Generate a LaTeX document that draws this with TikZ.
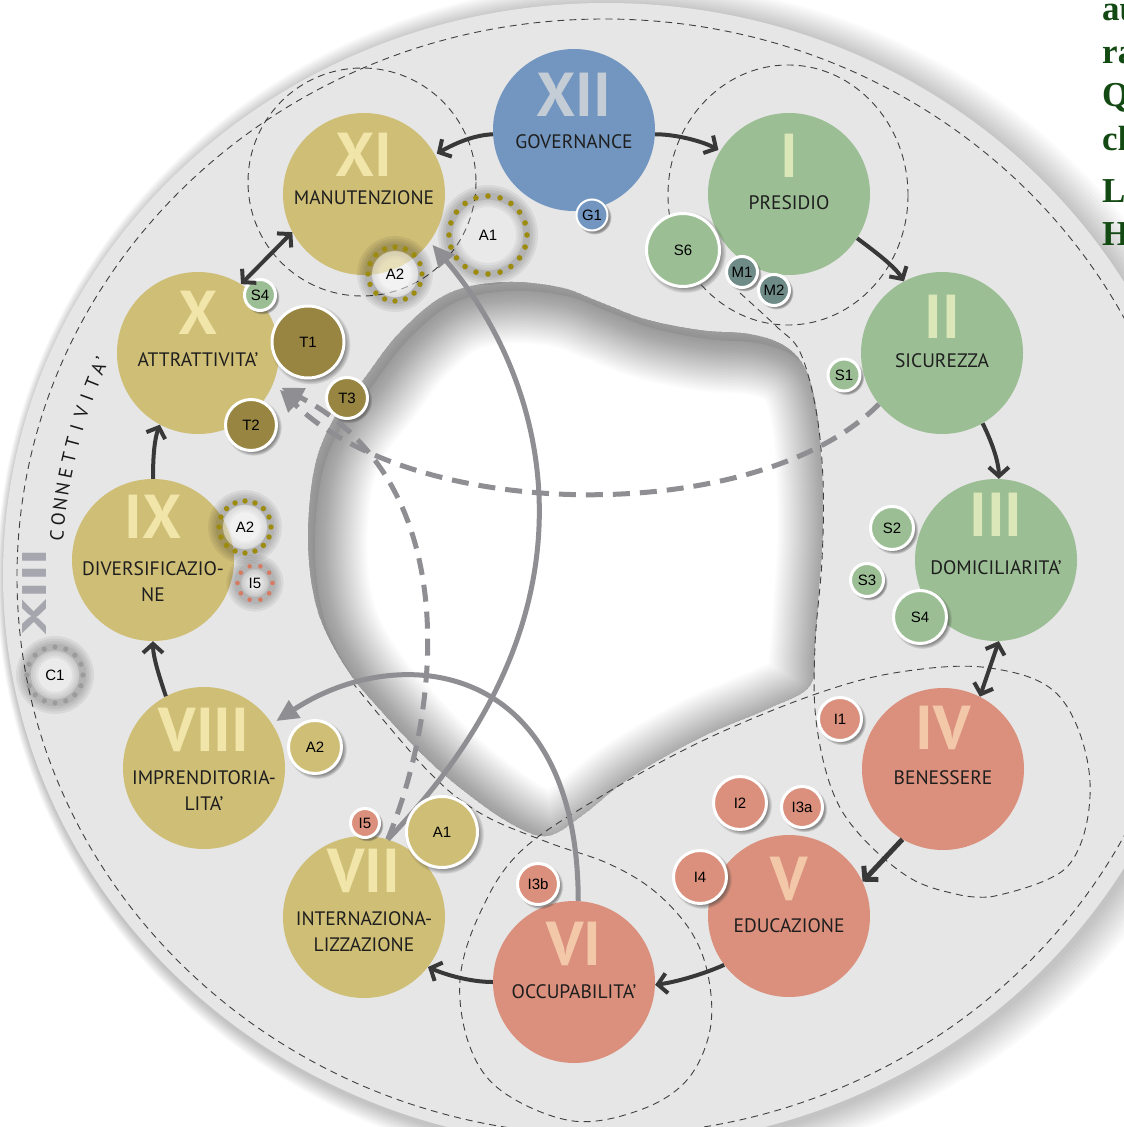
\documentclass[tikz,border=0pt]{standalone}
\usepackage{fontspec}
\setmainfont{PT Sans}
\newfontfamily\arialfam{Liberation Sans}
\newfontfamily\serifbfam{Liberation Serif}
\usetikzlibrary{arrows.meta,shadows,calc}

\definecolor{ringgray}{HTML}{E6E6E6}
\definecolor{cyel}{HTML}{CFBE76}
\definecolor{cgreen}{HTML}{9BBE94}
\definecolor{cred}{HTML}{DA907C}
\definecolor{cblue}{HTML}{7296C0}
\definecolor{colive}{HTML}{978541}
\definecolor{cteal}{HTML}{6E8B88}
\definecolor{nyel}{HTML}{F1E5AA}
\definecolor{ngreen}{HTML}{DBE7B8}
\definecolor{nred}{HTML}{F3C8A8}
\definecolor{nblue}{HTML}{C4CCD6}
\definecolor{darkarr}{HTML}{383838}
\definecolor{grayarr}{HTML}{8E8E93}
\definecolor{dotolive}{HTML}{9C8B0C}
\definecolor{dotred}{HTML}{D77A62}
\definecolor{dotgray}{HTML}{9B9B9B}
\definecolor{xiiigray}{HTML}{A6A6AE}
\definecolor{txtdark}{HTML}{1E1E1E}
\definecolor{fraggreen}{HTML}{134A13}
\definecolor{dashcol}{HTML}{404040}

\newcommand\mynumfont{\bfseries\fontsize{62}{62}\selectfont}
\newcommand\mylabfont{\fontsize{19.5}{26}\selectfont}
\newcommand\mysatfont{\arialfam\fontsize{15}{15}\selectfont}
\newcommand\myholepath{plot[smooth cycle, tension=0.6] coordinates {(363,380) (400,332) (447,294) (502,282) (559,287) (600,302) (645,319) (700,330) (750,334) (785,346) (806,370) (817,412) (822,470) (823,530) (819,590) (815,645) (810,686) (770,708) (700,738) (630,778) (583,815) (548,836) (515,826) (473,798) (430,762) (382,712) (346,668) (318,612) (308,545) (314,470) (333,420)}}
\newcommand\glowring[3]{%
  \foreach \w in {22,17,12,7} {\draw[black, opacity=0.06, line width=\w pt] (#1) circle [radius=#2];}
  \fill[white, opacity=#3] (#1) circle [radius={#2-4}];
}
\newcommand\dotring[5]{%
  \foreach \k in {1,...,#3} {\fill[#5] ($(#1)+({360/#3*\k}:#2)$) circle [radius=#4];}
}

\tikzset{
  maincirc/.style={circle, minimum size=162pt, inner sep=0pt},
  numtxt/.style={font=\mynumfont, inner sep=0pt},
  labtxt/.style={font=\mylabfont, inner sep=0pt, align=center, text=txtdark},
  sat/.style={circle, draw=white, line width=3pt, inner sep=0pt, font=\mysatfont, text=black,
    circular drop shadow={shadow xshift=2pt, shadow yshift=-2pt, shadow scale=1.12, opacity=0.55, fill=black!75}},
  dlabel/.style={inner sep=0pt, font=\mysatfont, text=black},
  grpdash/.style={draw=dashcol, line width=0.9pt, dash pattern=on 7pt off 5pt},
  darkarrow/.style={draw=darkarr, line width=4pt, -{Straight Barb[length=9pt,width=20pt]}},
  dblarrow/.style={draw=darkarr, line width=4pt, {Straight Barb[length=9pt,width=20pt]}-{Straight Barb[length=9pt,width=20pt]}},
  grayarrow/.style={draw=grayarr, line width=5pt, -{Triangle[length=22pt,width=20pt]}},
  graydash/.style={dash pattern=on 17pt off 10pt},
  conntxt/.style={font=\fontsize{19}{19}\selectfont, text=black!90, inner sep=0pt},
  fragtxt/.style={font=\serifbfam\bfseries\fontsize{35}{35}\selectfont, text=fraggreen, inner sep=0pt, anchor=base west}
}

\begin{document}
\begin{tikzpicture}[x=1pt,y=-1pt]
\useasboundingbox (0,0) rectangle (1124,1127);
\clip (0,0) rectangle (1124,1127);
\fill[white] (0,0) rectangle (1124,1127);

% ring shadow and ring
\foreach \k in {1,...,12} {\fill[black, opacity=0.018] ({607+1.4*\k},578) ellipse [x radius={603+2*\k}, y radius={572+2*\k}];}
\fill[ringgray] (606,575) ellipse [x radius=603, y radius=572];

% text fragments at top right
\node[fragtxt] (fr1) at (1102,20) {au};
\node[fragtxt] (fr2) at (1102,63) {ra};
\node[fragtxt] (fr3) at (1102,106) {Q};
\node[fragtxt] (fr4) at (1102,150) {cl};
\node[fragtxt] (fr5) at (1102,202) {L};
\node[fragtxt] (fr6) at (1102,245) {H};

% inner hole with inset shadow
\begin{scope}
  \clip \myholepath;
  \fill[white] (250,250) rectangle (850,870);
  \begin{scope}[shift={(7,9)}]
    \fill[black, opacity=0.06, even odd rule] (200,200) rectangle (900,900) \myholepath;
    \foreach \w in {3,6,...,105} {\draw[black, opacity=0.011, line width=\w pt] \myholepath;}
  \end{scope}
\end{scope}

% dashed group outlines
\draw[grpdash] (604,577) ellipse [x radius=587, y radius=558];
\draw[grpdash] (362,182) circle [radius=114];
\draw[grpdash] (788,195) ellipse [x radius=120, y radius=130];
\draw[grpdash] plot[smooth, tension=0.6] coordinates {(352,682) (427,770) (480,813) (547,842) (607,863) (653,890) (690,930) (708,975) (710,1030) (687,1080) (640,1110) (573,1121) (503,1092) (470,1047) (460,980) (480,913) (520,852) (600,797) (700,742) (813,695) (900,672) (990,668) (1060,697) (1090,782) (1068,866) (990,897)};
\draw[grpdash] plot[smooth, tension=0.6] coordinates {(740,293) (777,327) (800,352) (816,410) (823,480) (822,560) (815,645) (816,720) (832,790) (860,835) (910,878) (960,895) (990,897)};

% XIII and CONNETTIVITA'
\node[rotate=90, yscale=0.59, font=\bfseries\fontsize{58}{58}\selectfont, text=xiiigray, inner sep=0pt] (xiii) at (35,592) {XIII};
\foreach \ch/\st [count=\i] in {C/0,O/1,N/2,N/3,E/4,T/5,T/6,I/7,V/8,I/9,T/10,A/11,’/11.6} {
  \pgfmathsetmacro\ang{184.4+\st*1.74}
  \pgfmathsetmacro\rot{-\ang-90}
  \node[conntxt, rotate=\rot, anchor=base] (cn\i) at ($(572,575)+(\ang:510)$) {\ch};
}

% main circles
\node[maincirc, fill=cblue]  (c12) at (574,130) {};
\node[maincirc, fill=cgreen] (c1)  at (789,194) {};
\node[maincirc, fill=cgreen] (c2)  at (942,353) {};
\node[maincirc, fill=cgreen] (c3)  at (996,560) {};
\node[maincirc, fill=cred]   (c4)  at (943,769) {};
\node[maincirc, fill=cred]   (c5)  at (789,916) {};
\node[maincirc, fill=cred]   (c6)  at (574,982) {};
\node[maincirc, fill=cyel]   (c7)  at (364,917) {};
\node[maincirc, fill=cyel]   (c8)  at (204,768) {};
\node[maincirc, fill=cyel]   (c9)  at (153,560) {};
\node[maincirc, fill=cyel]   (c10) at (198,353) {};
\node[maincirc, fill=cyel]   (c11) at (364,194) {};

% numerals
\node[numtxt, text=nblue]  (n12) at (574,95)  {XII};
\node[numtxt, text=ngreen] (n1)  at (789,156) {I};
\node[numtxt, text=ngreen] (n2)  at (942,317) {II};
\node[numtxt, text=ngreen] (n3)  at (996,515) {III};
\node[numtxt, text=nred]   (n4)  at (943,728) {IV};
\node[numtxt, text=nred]   (n5)  at (789,879) {V};
\node[numtxt, text=nred]   (n6)  at (574,944) {VI};
\node[numtxt, text=nyel]   (n7)  at (364,871) {VII};
\node[numtxt, text=nyel]   (n8)  at (204,730) {VIII};
\node[numtxt, text=nyel]   (n9)  at (153,517) {IX};
\node[numtxt, text=nyel]   (n10) at (198,313) {X};
\node[numtxt, text=nyel]   (n11) at (364,155) {XI};

% labels
\node[labtxt] (l12) at (574,142) {GOVERNANCE};
\node[labtxt] (l1)  at (789,203) {PRESIDIO};
\node[labtxt] (l2)  at (942,361) {SICUREZZA};
\node[labtxt] (l3)  at (996,568) {DOMICILIARITA’};
\node[labtxt] (l4)  at (943,778) {BENESSERE};
\node[labtxt] (l5)  at (789,926) {EDUCAZIONE};
\node[labtxt] (l6)  at (574,992) {OCCUPABILITA’};
\node[labtxt] (l7)  at (364,932) {INTERNAZIONA-\\LIZZAZIONE};
\node[labtxt] (l8)  at (204,791) {IMPRENDITORIA-\\LITA’};
\node[labtxt] (l9)  at (153,582) {DIVERSIFICAZIO-\\NE};
\node[labtxt] (l10) at (198,360) {ATTRATTIVITA’};
\node[labtxt] (l11) at (364,198) {MANUTENZIONE};

% dotted rings (glow)
\coordinate (pA1) at (488,235);
\coordinate (pA2) at (395,274);
\coordinate (pA2b) at (245,527);
\coordinate (pI5) at (255,583);
\coordinate (pC1) at (55,675);
\glowring{pA1}{39}{0.15}
\glowring{pA2}{27}{0.5}
\glowring{pA2b}{26}{0.45}
\glowring{pI5}{17.5}{0.2}
\glowring{pC1}{28}{0.2}

% gray arrows
\draw[grayarrow, shorten >=4pt] (c7.73) .. controls (620,600) and (540,370) .. (c11.-36);
\draw[grayarrow, shorten >=5pt] (c6.87) .. controls (578,660) and (400,640) .. (c8.33);
\draw[grayarrow, graydash, shorten >=9pt] (c2.219) .. controls (760,525) and (420,525) .. (c10.-22);
\draw[grayarrow, graydash, shorten >=9pt] (c7.73) .. controls (445,700) and (460,480) .. (c10.-22);

% dotted ring dots and labels
\dotring{pA1}{39}{20}{2.8}{dotolive}
\dotring{pA2}{27}{16}{2.7}{dotolive}
\dotring{pA2b}{26}{16}{2.7}{dotolive}
\dotring{pI5}{17.5}{10}{2.3}{dotred}
\dotring{pC1}{28}{16}{2.6}{dotgray}
\node[dlabel] (dA1) at (pA1) {A1};
\node[dlabel] (dA2) at (pA2) {A2};
\node[dlabel] (dA2b) at (pA2b) {A2};
\node[dlabel] (dI5) at (pI5) {I5};
\node[dlabel] (dC1) at (pC1) {C1};

% satellites
\node[sat, fill=cgreen, minimum size=31pt] (s4a) at (260,295) {S4};
\node[sat, fill=colive, minimum size=72pt] (t1) at (308,342) {T1};
\node[sat, fill=colive, minimum size=51pt] (t2) at (251,425) {T2};
\node[sat, fill=colive, minimum size=41pt] (t3) at (347,398) {T3};
\node[sat, fill=cgreen, minimum size=73pt] (s6) at (683,250) {S6};
\node[sat, fill=cteal, minimum size=31pt] (m1) at (742,272) {M1};
\node[sat, fill=cteal, minimum size=31pt] (m2) at (774,290) {M2};
\node[sat, fill=cgreen, minimum size=32pt] (s1) at (844,375) {S1};
\node[sat, fill=cgreen, minimum size=43pt] (s2) at (892,528) {S2};
\node[sat, fill=cgreen, minimum size=33pt] (s3) at (867,580) {S3};
\node[sat, fill=cgreen, minimum size=53pt] (s4b) at (920,617) {S4};
\node[sat, fill=cred, minimum size=43pt] (i1) at (840,719) {I1};
\node[sat, fill=cred, minimum size=53pt] (i2) at (740,803) {I2};
\node[sat, fill=cred, minimum size=41pt] (i3a) at (802,807) {I3a};
\node[sat, fill=cred, minimum size=53pt] (i4) at (700,877) {I4};
\node[sat, fill=cred, minimum size=41pt] (i3b) at (538,884) {I3b};
\node[sat, fill=cred, minimum size=29pt] (i5a) at (365,823) {I5};
\node[sat, fill=cyel, minimum size=71pt] (a1b) at (442,832) {A1};
\node[sat, fill=cyel, minimum size=53pt] (a2c) at (315,747) {A2};
\node[sat, fill=cblue, minimum size=31pt, line width=2pt] (g1) at (592,215) {G1};

% dark arrows between main circles
\draw[darkarrow, shorten >=2pt] (c12.183) .. controls +(-22,1) and +(16,-9) .. (c11.29);
\draw[darkarrow, shorten >=2pt] (c12.357) .. controls +(22,0) and +(-16,-9) .. (c1.148);
\draw[darkarrow] (c1.-33) .. controls +(16,12) and +(-9,-15) .. (c2.118);
\draw[darkarrow] (c2.-60) .. controls +(8,16) and +(0,-18) .. (c3.88);
\draw[dblarrow] (c3.-88) -- (c4.63);
\draw[darkarrow, line width=5pt] (c4.240) -- (c5.25);
\draw[darkarrow] (c5.217) .. controls +(-20,9) and +(22,-3) .. (c6.-2);
\draw[darkarrow] (c6.180) .. controls +(-22,0) and +(18,8) .. (c7.-38);
\draw[darkarrow] (c8.118) .. controls +(-6,-18) and +(0,16) .. (c9.-90);
\draw[darkarrow] (c9.90) .. controls +(0,-18) and +(-6,16) .. (c10.-118);
\draw[dblarrow] (c10.58) -- (c11.208);
\end{tikzpicture}
\end{document}
